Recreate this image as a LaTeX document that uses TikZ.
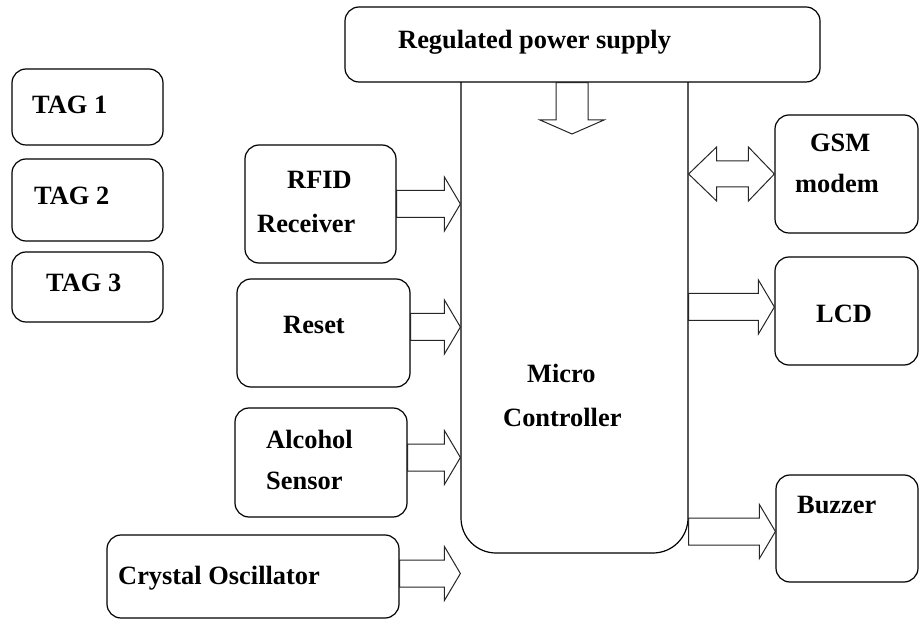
\documentclass[tikz,border=0pt]{standalone}
\usepackage{fontspec}
\setmainfont{Liberation Serif}
\usetikzlibrary{calc,fit}
\tikzset{
	box/.style={draw=black, fill=white, line width=1.2pt, rounded corners=14pt, inner sep=0pt},
	txt/.style={anchor=base west, inner sep=0pt},
	fat/.style={draw=black!85, fill=white, line width=1pt, line join=miter}
}
\newcommand{\fatarrow}[2]{%
	\draw[fat] let \p1=(#1), \p2=(#2) in (\x1,\y1+13.5pt)--(\x2-16pt,\y1+13.5pt)--(\x2-16pt,\y1+27pt)--(\x2,\y1)--(\x2-16pt,\y1-27pt)--(\x2-16pt,\y1-13.5pt)--(\x1,\y1-13.5pt)--cycle;}
\newcommand{\fatboth}[2]{%
	\draw[fat] let \p1=(#1), \p2=(#2) in (\x1,\y1)--(\x1+28pt,\y1+27pt)--(\x1+28pt,\y1+13pt)--(\x2-26pt,\y1+13pt)--(\x2-26pt,\y1+27pt)--(\x2,\y1)--(\x2-26pt,\y1-27pt)--(\x2-26pt,\y1-13pt)--(\x1+28pt,\y1-13pt)--(\x1+28pt,\y1-27pt)--cycle;}
\newcommand{\fatdown}[2]{%
	\draw[fat] let \p1=(#1), \p2=(#2) in (\x1-16pt,\y1)--(\x1-16pt,\y2+14pt)--(\x1-32pt,\y2+14pt)--(\x1,\y2)--(\x1+32pt,\y2+14pt)--(\x1+16pt,\y2+14pt)--(\x1+16pt,\y1)--cycle;}
\begin{document}
\begin{tikzpicture}[x=1pt, y=-1pt, font=\fontsize{26.4}{32}\selectfont\bfseries, line join=round, line cap=round]
			\useasboundingbox (0,0) rectangle (919,620);
			% tags
			\node[box, fit={(12,69) (163,145)}] (tag1) {};
			\node[box, fit={(12,159) (163,241)}] (tag2) {};
			\node[box, fit={(12,252) (163,322)}] (tag3) {};
			\node[txt] (tag1txt) at (32,114) {TAG 1};
			\node[txt] (tag2txt) at (34,205) {TAG 2};
			\node[txt] (tag3txt) at (46,292) {TAG 3};
			% inputs
			\node[box, fit={(245,145) (396,263)}] (rfid) {};
			\node[box, fit={(237,279) (410,387)}] (reset) {};
			\node[box, fit={(235,408) (407,517)}] (alco) {};
			\node[box, fit={(107,535) (399,618)}] (xtal) {};
			\node[txt] (rfidtxt) at (287,189) {RFID};
			\node[txt] (rfidtxtb) at (257,233) {Receiver};
			\node[txt] (resettxt) at (283,334) {Reset};
			\node[txt] (alcotxt) at (266,449) {Alcohol};
			\node[txt] (alcotxtb) at (266,489) {Sensor};
			\node[txt] (xtaltxt) at (118,584) {Crystal Oscillator};
			% controller and supply
			\node[box, rounded corners=35pt, fit={(461,40) (688,553)}] (mc) {};
			\node[box, fit={(345,7) (820,82)}] (power) {};
			\node[txt] (powertxt) at (398,49) {Regulated power supply};
			\node[txt] (mctxt) at (527,383) {Micro};
			\node[txt] (mctxtb) at (503,427) {Controller};
			% outputs
			\node[box, fit={(775,115) (918,233)}] (gsm) {};
			\node[box, fit={(775,257) (918,365)}] (lcd) {};
			\node[box, fit={(776,475) (918,582)}] (buzz) {};
			\node[txt] (gsmtxt) at (810,152) {GSM};
			\node[txt] (gsmtxtb) at (795,193) {modem};
			\node[txt] (lcdtxt) at (816,323) {LCD};
			\node[txt] (buzztxt) at (797,513) {Buzzer};
			% block arrows
			\coordinate (pwrtip) at (572,134);
			\fatdown{power.south -| pwrtip}{pwrtip}
			\fatarrow{rfid.east}{rfid.east -| mc.west}
			\fatarrow{[yshift=6pt]reset.east}{[yshift=6pt]reset.east -| mc.west}
			\fatarrow{[yshift=5pt]alco.east}{[yshift=5pt]alco.east -| mc.west}
			\fatarrow{[yshift=3pt]xtal.east}{[yshift=3pt]xtal.east -| mc.west}
			\fatboth{gsm.west -| mc.east}{gsm.west}
			\fatarrow{[yshift=4pt]lcd.west -| mc.east}{[yshift=4pt]lcd.west}
			\fatarrow{[yshift=-3pt]buzz.west -| mc.east}{[yshift=-3pt]buzz.west}
	\end{tikzpicture}
\end{document}
